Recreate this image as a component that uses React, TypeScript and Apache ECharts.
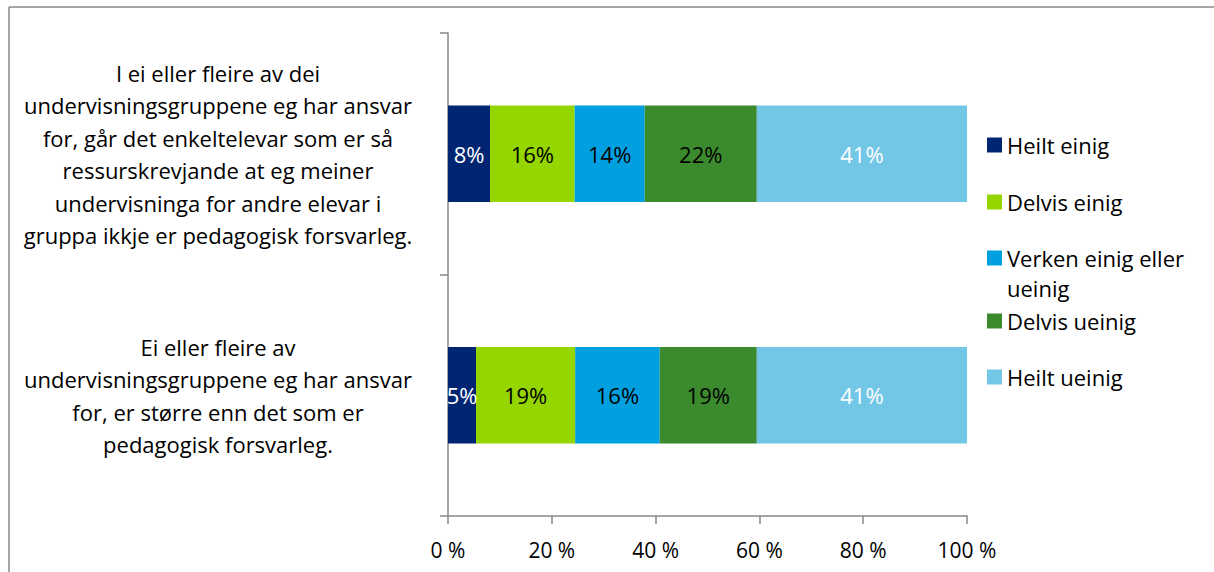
import React, { useEffect, useRef } from "react";
import * as echarts from "echarts";

const categories = [
  "I ei eller fleire av dei\nundervisningsgruppene eg har ansvar\nfor, går det enkeltelevar som er så\nressurskrevjande at eg meiner\nundervisninga for andre elevar i\ngruppa ikkje er pedagogisk forsvarleg.",
  "Ei eller fleire av\nundervisningsgruppene eg har ansvar\nfor, er større enn det som er\npedagogisk forsvarleg.",
];
const seriesNames = ["Heilt einig", "Delvis einig", "Verken einig eller ueinig", "Delvis ueinig", "Heilt ueinig"];
const heiltEinig = [8.1, 5.4];
const delvisEinig = [16.3, 19.1];
const verken = [13.5, 16.3];
const delvisUeinig = [21.6, 18.7];
const heiltUeinig = [40.5, 40.5];
const xTicks = [0, 20, 40, 60, 80, 100];

const colors = ["#002673", "#95D600", "#00A0E0", "#3C8A2E", "#72C6E6"];
const labelColors = ["#ffffff", "#000000", "#000000", "#000000", "#ffffff"];
const FONT = "Open Sans";
const FS = 21;
const FS_BIG = 22;
const LH = 24;

export default function App() {
  const ref = useRef<HTMLDivElement>(null);
  useEffect(() => {
    if (!ref.current) return;
    const chart = echarts.init(ref.current, null, { renderer: "svg" });
    const values = [heiltEinig, delvisEinig, verken, delvisUeinig, heiltUeinig];
    const legendCenters = [145, 202, 258, 321, 377];
    const legendText = ["Heilt einig", "Delvis einig", "Verken einig eller", "Delvis ueinig", "Heilt ueinig"];
    chart.setOption({
      animation: false,
      textStyle: { fontFamily: FONT },
      grid: { left: 448, right: 247, top: 33, bottom: 56, containLabel: false },
      legend: seriesNames.map((n, i) => ({
        data: [n],
        orient: "vertical",
        left: 987,
        top: legendCenters[i] - LH / 2,
        padding: 0,
        icon: "rect",
        itemWidth: 15,
        itemHeight: 15,
        itemGap: 0,
        selectedMode: false,
        formatter: () => legendText[i],
        textStyle: { fontFamily: FONT, fontSize: FS_BIG, color: "#000", lineHeight: LH },
      })),
      xAxis: {
        type: "value",
        min: 0,
        max: 100,
        interval: 20,
        splitLine: { show: false },
        axisLine: { show: true, lineStyle: { color: "#888", width: 1.5 } },
        axisTick: { show: true, length: 8, lineStyle: { color: "#888", width: 1.5 } },
        axisLabel: {
          formatter: (v: number) => (xTicks.includes(v) ? `${v} %` : ""),
          fontFamily: FONT,
          fontSize: FS,
          color: "#000",
          margin: 23,
        },
      },
      yAxis: {
        type: "category",
        data: categories,
        inverse: true,
        axisLine: { show: true, lineStyle: { color: "#888", width: 1.5 } },
        axisTick: { show: true, length: 8, lineStyle: { color: "#888", width: 1.5 } },
        axisLabel: {
          align: "center",
          margin: 230,
          fontFamily: FONT,
          fontSize: FS_BIG,
          lineHeight: 32.5,
          color: "#000",
        },
      },
      series: seriesNames.map((n, i) => ({
        name: n,
        type: "bar",
        stack: "total",
        barWidth: "40%",
        data: values[i],
        itemStyle: { color: colors[i] },
        label: {
          show: true,
          position: "inside",
          formatter: (p: any) => `${Math.round(p.value)}%`,
          color: labelColors[i],
          fontFamily: FONT,
          fontSize: FS_BIG,
        },
      })),
      graphic: [
        { type: "line", shape: { x1: 9, y1: 7, x2: 1214, y2: 7 }, style: { stroke: "#888", lineWidth: 1.5 } },
        { type: "line", shape: { x1: 9, y1: 7, x2: 9, y2: 572 }, style: { stroke: "#888", lineWidth: 1.5 } },
        {
          type: "text",
          left: 1007,
          top: 288 - LH / 2,
          style: { text: "ueinig", fontFamily: FONT, fontSize: FS_BIG, fill: "#000", lineHeight: LH },
        },
      ],
    });
    return () => chart.dispose();
  }, []);
  return <div ref={ref} style={{ position: "fixed", left: 0, top: 0, width: 1214, height: 572, background: "#fff" }} />;
}
